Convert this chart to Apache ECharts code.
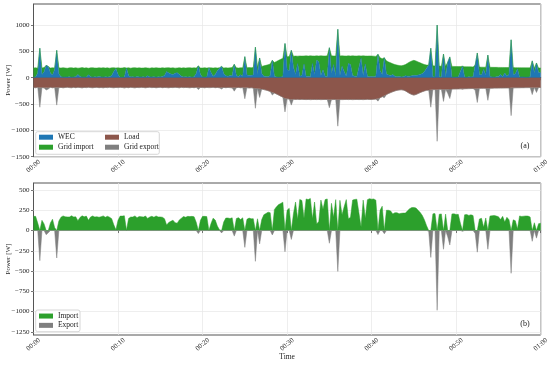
<!DOCTYPE html>
<html><head><meta charset="utf-8">
<script src="https://cdn.jsdelivr.net/npm/echarts@6/dist/echarts.min.js"></script>
<style>html,body{margin:0;padding:0;background:#fff}#c{width:550px;height:365px}</style>
</head><body><div id="c"></div>
<script>
// Sampling step: 15 s (0.25 min); one line per minute (4 samples), last line = 01:00
const wec = [
 10,15,90,560, 60,110,235,215, 90,50,150,520, 70,20,10,15, 12,20,8,15,
 20,60,25,10, 15,10,55,20, 10,18,12,25, 15,10,20,12, 18,40,120,175,
 60,5,8,10, 182,40,15,20, 10,25,15,12, 20,10,35,15, 12,20,10,18,
 15,25,40,120, 90,70,60,85, 95,60,30,15, 20,12,18,10, 20,80,225,60,
 10,15,12,188, 100,30,60,130, 180,215,80,35, 30,40,35,255, 40,25,55,30,
 400,50,40,45, 50,580,60,375, 80,30,25,20, 40,330,30,15, 10,15,20,650,
 150,130,520,200, 60,270,30,40, 260,25,30,20, 270,60,335,300, 40,150,30,25,
 570,80,250,30, 920,40,220,120, 30,270,250,40, 30,25,200,370, 40,260,30,20,
 25,20,30,445, 130,60,380,70, 50,40,60,30, 20,25,15,20, 35,30,30,35,
 45,40,50,60, 80,120,180,240, 560,20,15,1000, 20,15,450,15, 295,395,10,8,
 15,12,120,220, 15,10,20,12, 20,240,470,60, 50,160,45,430, 20,15,10,18,
 25,60,20,90, 30,60,720,60, 70,170,10,15, 12,8,10,20, 320,90,280,100,
 95
];
const gridImport = [
 175,175,92,0, 126,82,0,0, 93,140,36,0, 118,164,181,170, 168,167,182,168,
 169,122,161,182, 169,178,126,167, 180,167,171,164, 171,181,164,176, 164,147,70,10,
 128,178,178,182, 3,149,167,167, 181,159,173,171, 166,180,150,166, 176,164,180,168,
 168,164,145,67, 100,114,128,97, 91,131,153,173, 164,175,172,175, 169,103,0,126,
 175,175,172,0, 87,153,129,55, 10,0,104,154, 155,148,157,0, 149,159,135,157,
 0,138,154,145, 146,0,145,0, 135,195,210,227, 220,0,260,295, 320,335,350,0,
 250,275,0,208, 352,140,384,371, 153,390,382,396, 144,352,80,113, 376,264,382,390,
 0,336,164,382, 0,373,196,294, 382,145,163,376, 384,387,215,43, 376,153,381,394,
 387,390,375,0, 250,300,0,250, 250,242,205,220, 220,207,213,215, 215,245,270,283,
 285,278,250,222, 185,130,60,0, 0,206,209,0, 201,205,0,203, 0,0,205,206,
 198,200,91,0, 194,198,187,194, 185,0,0,142, 151,40,155,0, 178,183,187,179,
 171,135,175,104, 163,133,0,132, 121,20,180,174, 177,180,178,167, 0,96,0,85,
 90
];
const load = [
 -185,-190,-182,-188, -186,-192,-184,-189, -183,-190,-186,-181, -188,-184,-191,-185, -180,-187,-190,-183,
 -189,-182,-186,-192, -184,-188,-181,-187, -190,-185,-183,-189, -186,-191,-184,-188, -182,-187,-190,-185,
 -188,-183,-186,-192, -185,-189,-182,-187, -191,-184,-188,-183, -186,-190,-185,-181, -188,-184,-190,-186,
 -183,-189,-185,-187, -190,-184,-188,-182, -186,-191,-183,-188, -184,-187,-190,-185, -189,-183,-187,-186,
 -185,-190,-184,-188, -187,-183,-189,-185, -190,-186,-184,-189, -185,-188,-192,-186, -189,-184,-190,-187,
 -192,-188,-194,-190, -196,-200,-205,-210, -215,-225,-235,-247, -260,-275,-290,-310, -330,-350,-370,-388,
 -400,-405,-410,-408, -412,-410,-414,-411, -413,-415,-412,-416, -414,-412,-415,-413, -416,-414,-412,-415,
 -413,-416,-414,-412, -415,-413,-416,-414, -412,-415,-413,-416, -414,-412,-415,-413, -416,-413,-411,-414,
 -412,-410,-405,-395, -380,-360,-340,-320, -300,-282,-265,-250, -240,-232,-228,-235, -250,-275,-300,-318,
 -330,-318,-300,-282, -265,-250,-240,-232, -228,-226,-224,-222, -221,-220,-219,-218, -217,-216,-215,-214,
 -213,-212,-211,-210, -209,-208,-207,-206, -205,-204,-203,-202, -201,-200,-200,-199, -198,-198,-197,-197,
 -196,-195,-195,-194, -193,-193,-192,-192, -191,-190,-190,-189, -189,-188,-188,-187, -187,-186,-186,-185,
 -185
];
const gridExport = [
 0,0,0,-372, 0,0,-51,-26, 0,0,0,-339, 0,0,0,0, 0,0,0,0,
 0,0,0,0, 0,0,0,0, 0,0,0,0, 0,0,0,0, 0,0,0,0,
 0,0,0,0, 0,0,0,0, 0,0,0,0, 0,0,0,0, 0,0,0,0,
 0,0,0,0, 0,0,0,0, 0,0,0,0, 0,0,0,0, 0,0,-38,0,
 0,0,0,0, 0,0,0,0, 0,-29,0,0, 0,0,0,-69, 0,0,0,0,
 -208,0,0,0, 0,-380,0,-165, 0,0,0,0, 0,-55,0,0, 0,0,0,-262,
 0,0,-110,0, 0,0,0,0, 0,0,0,0, 0,0,0,0, 0,0,0,0,
 -157,0,0,0, -505,0,0,0, 0,0,0,0, 0,0,0,0, 0,0,0,0,
 0,0,0,-50, 0,0,-40,0, 0,0,0,0, 0,0,0,0, 0,0,0,0,
 0,0,0,0, 0,0,0,-8, -332,0,0,-985, 0,0,-231,0, -78,-179,0,0,
 0,0,0,-10, 0,0,0,0, 0,-36,-267,0, 0,0,0,-231, 0,0,0,0,
 0,0,0,0, 0,0,-528,0, 0,0,0,0, 0,0,0,0, -133,0,-94,0,
 0
];
const xTicks = [0, 10, 20, 30, 40, 50, 60];            // minutes
const xTickLabels = ['00:00', '00:10', '00:20', '00:30', '00:40', '00:50', '01:00'];
const yTicksA = [-1500, -1000, -500, 0, 500, 1000];
const yTicksB = [-1250, -1000, -750, -500, -250, 0, 250, 500];

const STEP_MIN = 0.25;
const times = wec.map((_, i) => i * STEP_MIN);          // sample times in minutes
const isTick = i => xTicks.indexOf(times[i]) >= 0;

const FONT = "'Liberation Serif', 'DejaVu Serif', serif";
const TXT = '#222';
const C = { wec: '#1f77b4', imp: '#2ca02c', load: '#8c564b', exp: '#7f7f7f' };
const minus = v => String(v).replace('-', '\u2212');

function xAxis(idx) {
  return {
    type: 'category', gridIndex: idx, boundaryGap: false, data: times.map(String),
    axisLine: { show: true, lineStyle: { color: '#555', width: 1 } },
    axisTick: { show: true, length: 2.5, interval: (i) => isTick(i), lineStyle: { color: '#555', width: 0.8 } },
    axisLabel: { fontFamily: FONT, fontSize: 7, color: TXT, rotate: 40, margin: 9.5,
      align: 'center', verticalAlign: 'middle', interval: (i) => isTick(i), hideOverlap: false,
      formatter: v => { const k = xTicks.indexOf(Number(v)); return k >= 0 ? xTickLabels[k] : ''; } },
    splitLine: { show: true, interval: (i) => isTick(i), lineStyle: { color: '#e6e6e6', width: 0.7 } },
    name: idx === 1 ? 'Time' : '', nameLocation: 'middle', nameGap: 18, nameMoveOverlap: false,
    nameTextStyle: { fontFamily: FONT, fontSize: 7.5, color: TXT }
  };
}
function yName() {
  return { name: 'Power [W]', nameLocation: 'middle', nameGap: 22, nameMoveOverlap: false,
    nameTextStyle: { fontFamily: FONT, fontSize: 7, color: TXT } };
}
function area(name, data, color, xi, stack, extra) {
  return Object.assign({
    name, type: 'line', xAxisIndex: xi, yAxisIndex: xi, data: data,
    stack, symbol: 'none', showSymbol: false, smooth: false,
    lineStyle: { width: 0.5, color }, itemStyle: { color },
    areaStyle: { color, opacity: 1 }, emphasis: { disabled: true }, z: 3
  }, extra || {});
}

const chart = echarts.init(document.getElementById('c'), null, { renderer: 'canvas' });
chart.setOption({
  animation: false,
  backgroundColor: '#fff',
  grid: [
    { left: 33.5, right: 9.3, top: 4, height: 152.7, show: true, borderColor: '#555', borderWidth: 1,
      containLabel: false, outerBoundsMode: 'none' },
    { left: 33.5, right: 9.3, top: 183, height: 152, show: true, borderColor: '#555', borderWidth: 1,
      containLabel: false, outerBoundsMode: 'none' }
  ],
  xAxis: [xAxis(0), xAxis(1)],
  yAxis: [
    Object.assign({ type: 'value', gridIndex: 0, min: -1500, max: 1400, interval: 500,
      axisLine: { show: true, lineStyle: { color: '#555' } },
      axisTick: { show: true, length: 2.5, customValues: yTicksA, lineStyle: { color: '#555', width: 0.8 } },
      axisLabel: { fontFamily: FONT, fontSize: 7, color: TXT, margin: 4, customValues: yTicksA,
        formatter: v => yTicksA.indexOf(v) >= 0 ? minus(v) : '' },
      splitLine: { show: true, lineStyle: { color: '#e6e6e6', width: 0.7 } } }, yName()),
    Object.assign({ type: 'value', gridIndex: 1, min: -1290, max: 587,
      axisLine: { show: true, lineStyle: { color: '#555' } },
      axisTick: { show: true, length: 2.5, customValues: yTicksB, lineStyle: { color: '#555', width: 0.8 } },
      axisLabel: { fontFamily: FONT, fontSize: 7, color: TXT, margin: 4, customValues: yTicksB,
        formatter: v => yTicksB.indexOf(v) >= 0 ? minus(v) : '' },
      splitLine: { show: false } }, yName())
  ],
  legend: [
    { left: 39, top: 132.2, orient: 'vertical', padding: 0, itemGap: 0, itemWidth: 14, itemHeight: 5,
      icon: 'rect', data: ['WEC', 'Grid import'], z: 10,
      textStyle: { fontFamily: FONT, fontSize: 7.5, color: TXT, lineHeight: 10 } },
    { left: 105, top: 132.2, orient: 'vertical', padding: 0, itemGap: 0, itemWidth: 14, itemHeight: 5,
      icon: 'rect', data: ['Load', 'Grid export'], z: 10,
      textStyle: { fontFamily: FONT, fontSize: 7.5, color: TXT, lineHeight: 10 } },
    { left: 39, top: 311.4, orient: 'vertical', padding: 0, itemGap: 0, itemWidth: 14, itemHeight: 5,
      icon: 'rect', data: ['Import', 'Export'], z: 10,
      textStyle: { fontFamily: FONT, fontSize: 7.5, color: TXT, lineHeight: 9.3 } }
  ],
  graphic: [
    { type: 'rect', z: 8, shape: { x: 35.7, y: 131.7, width: 123.6, height: 22.6, r: 2 },
      style: { fill: 'rgba(255,255,255,0.85)', stroke: '#cccccc', lineWidth: 0.8 }, silent: true },
    { type: 'rect', z: 8, shape: { x: 35.7, y: 310, width: 44.3, height: 21.7, r: 2 },
      style: { fill: 'rgba(255,255,255,0.85)', stroke: '#cccccc', lineWidth: 0.8 }, silent: true },
    { type: 'text', z: 9, x: 525, y: 146, style: { text: '(a)', fontFamily: FONT, fontSize: 8, fill: TXT, align: 'center', verticalAlign: 'middle' }, silent: true },
    { type: 'text', z: 9, x: 525, y: 324, style: { text: '(b)', fontFamily: FONT, fontSize: 8, fill: TXT, align: 'center', verticalAlign: 'middle' }, silent: true }
  ],
  series: [
    area('WEC', wec, C.wec, 0, 'pos'),
    area('Grid import', gridImport, C.imp, 0, 'pos'),
    area('Load', load, C.load, 0, 'neg'),
    area('Grid export', gridExport, C.exp, 0, 'neg'),
    area('Import', gridImport, C.imp, 1, null, {
      markLine: { silent: true, symbol: 'none', z: 1, label: { show: false },
        lineStyle: { color: '#e6e6e6', width: 0.7, type: 'solid' },
        data: yTicksB.map(v => ({ yAxis: v })) } }),
    area('Export', gridExport, C.exp, 1, null)
  ]
});
</script></body></html>
